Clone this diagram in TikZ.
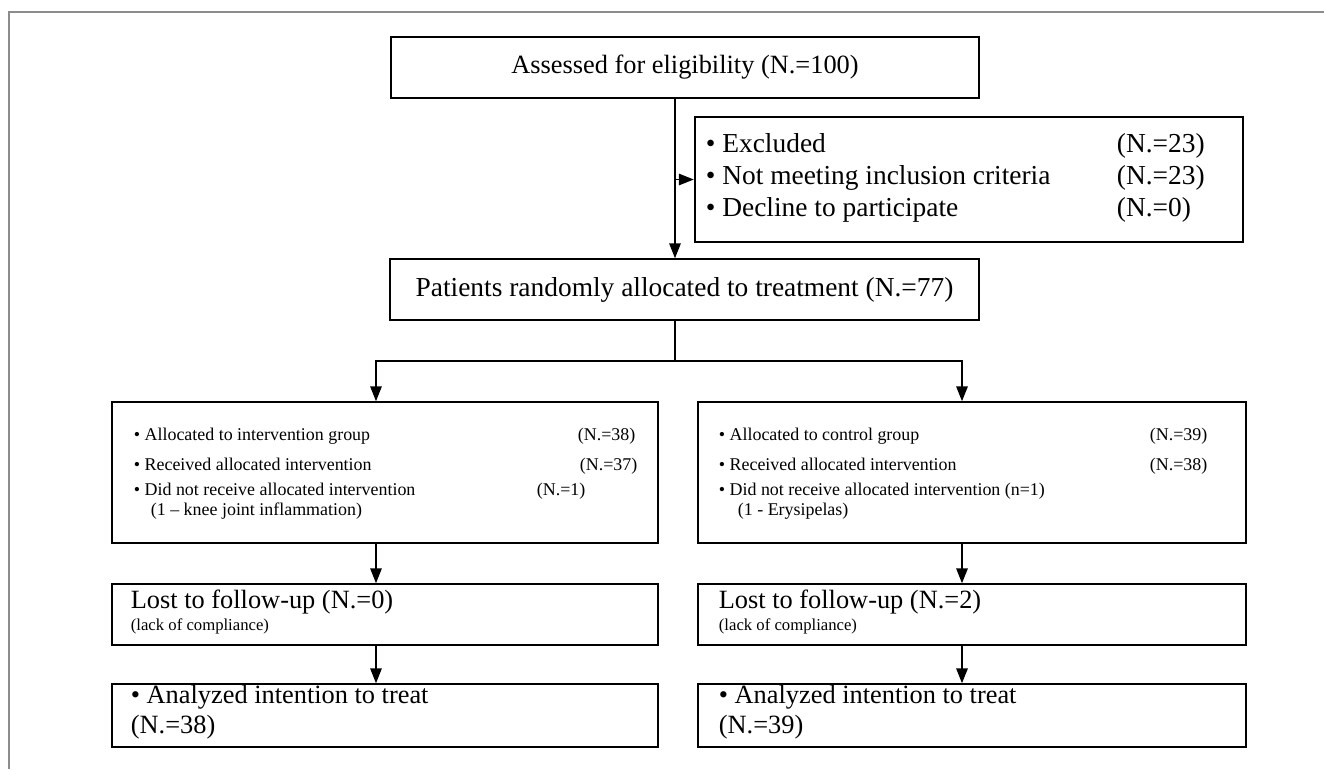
\documentclass[tikz,border=0pt]{standalone}
\usepackage{fontspec}
\setmainfont{Liberation Serif}
\usetikzlibrary{arrows.meta}

\begin{document}
\begin{tikzpicture}[->,>={Triangle[length=8.5pt,width=6.5pt]},line width=1pt,
    box/.style={rectangle, draw, line width=0.85pt, inner sep=0pt},
    big/.style={font=\fontsize{15}{18}\selectfont},
    bigger/.style={font=\fontsize{15.6}{18}\selectfont},
    small/.style={font=\fontsize{10.2}{12}\selectfont},
    note/.style={font=\fontsize{9.5}{11}\selectfont},
    txt/.style={anchor=base west, inner sep=0pt}]

      \useasboundingbox (0,0) rectangle (26.48,-15.38);

      % page frame
      \draw[-,gray!90,line width=0.9pt] (0.18,-15.38) -- (0.18,-0.24) -- (26.48,-0.24);

      \node[box,
            big,
            minimum width = 11.76cm,
            minimum height = 1.22cm] (elig) at (13.70,-1.35) {Assessed for eligibility (N.=100)};

      \node[box,
            line width = 1.4pt,
            minimum width = 10.96cm,
            minimum height = 2.5cm] (excl) at (19.38,-3.59) {};
      \node[txt,bigger] (ex1) at (14.10,-3.04) {• Excluded};
      \node[txt,bigger] (ex1n) at (22.32,-3.04) {(N.=23)};
      \node[txt,bigger] (ex2) at (14.10,-3.68) {• Not meeting inclusion criteria};
      \node[txt,bigger] (ex2n) at (22.32,-3.68) {(N.=23)};
      \node[txt,bigger] (ex3) at (14.10,-4.32) {• Decline to participate};
      \node[txt,bigger] (ex3n) at (22.32,-4.32) {(N.=0)};

      \node[box,
            bigger,
            minimum width = 11.78cm,
            minimum height = 1.22cm] (pat) at (13.69,-5.79) {Patients randomly allocated to treatment (N.=77)};

      % intervention group
      \node[box,
            minimum width = 10.92cm,
            minimum height = 2.82cm] (grpL) at (7.70,-9.45) {};
      \node[txt,small] (gl1) at (2.66,-8.80) {• Allocated to intervention group};
      \node[txt,small] (gl1n) at (11.54,-8.80) {(N.=38)};
      \node[txt,small] (gl2) at (2.66,-9.40) {• Received allocated intervention};
      \node[txt,small] (gl2n) at (11.58,-9.40) {(N.=37)};
      \node[txt,small] (gl3) at (2.66,-9.90) {• Did not receive allocated intervention};
      \node[txt,small] (gl3n) at (10.72,-9.90) {(N.=1)};
      \node[txt,small] (gl4) at (3.00,-10.30) {(1 – knee joint inflammation)};

      % control group
      \node[box,
            minimum width = 10.96cm,
            minimum height = 2.82cm] (grpR) at (19.44,-9.45) {};
      \node[txt,small] (gr1) at (14.36,-8.80) {• Allocated to control group};
      \node[txt,small] (gr1n) at (22.98,-8.80) {(N.=39)};
      \node[txt,small] (gr2) at (14.36,-9.40) {• Received allocated intervention};
      \node[txt,small] (gr2n) at (22.98,-9.40) {(N.=38)};
      \node[txt,small] (gr3) at (14.36,-9.90) {• Did not receive allocated intervention (n=1)};
      \node[txt,small] (gr4) at (14.74,-10.30) {(1 - Erysipelas)};

      \node[box,
            minimum width = 10.92cm,
            minimum height = 1.22cm] (lostL) at (7.70,-12.29) {};
      \node[txt,big] (ll1) at (2.60,-12.16) {Lost to follow-up (N.=0)};
      \node[txt,note] (ll2) at (2.60,-12.60) {(lack of compliance)};

      \node[box,
            minimum width = 10.96cm,
            minimum height = 1.22cm] (lostR) at (19.44,-12.29) {};
      \node[txt,big] (lr1) at (14.36,-12.16) {Lost to follow-up (N.=2)};
      \node[txt,note] (lr2) at (14.36,-12.60) {(lack of compliance)};

      \node[box,
            minimum width = 10.92cm,
            minimum height = 1.26cm] (anaL) at (7.70,-14.31) {};
      \node[txt,big] (al1) at (2.60,-14.06) {• Analyzed intention to treat};
      \node[txt,big] (al2) at (2.60,-14.66) {(N.=38)};

      \node[box,
            minimum width = 10.96cm,
            minimum height = 1.26cm] (anaR) at (19.44,-14.31) {};
      \node[txt,big] (ar1) at (14.36,-14.06) {• Analyzed intention to treat};
      \node[txt,big] (ar2) at (14.36,-14.66) {(N.=39)};

      \coordinate (stem) at (13.50,-1.96);
      \coordinate (lcol) at (7.52,-7.22);
      \coordinate (rcol) at (19.24,-7.22);

      % enrolment
      \draw (stem) -- (stem |- pat.north);
      \draw (stem |- excl.west) -- (excl.west);
      % allocation
      \draw[-] (stem |- pat.south) -- (stem |- lcol);
      \draw (lcol -| stem) -| (lcol |- grpL.north);
      \draw (rcol -| stem) -| (rcol |- grpR.north);
      % follow-up and analysis
      \draw (lcol |- grpL.south) -- (lcol |- lostL.north);
      \draw (lcol |- lostL.south) -- (lcol |- anaL.north);
      \draw (rcol |- grpR.south) -- (rcol |- lostR.north);
      \draw (rcol |- lostR.south) -- (rcol |- anaR.north);

\end{tikzpicture}
\end{document}
